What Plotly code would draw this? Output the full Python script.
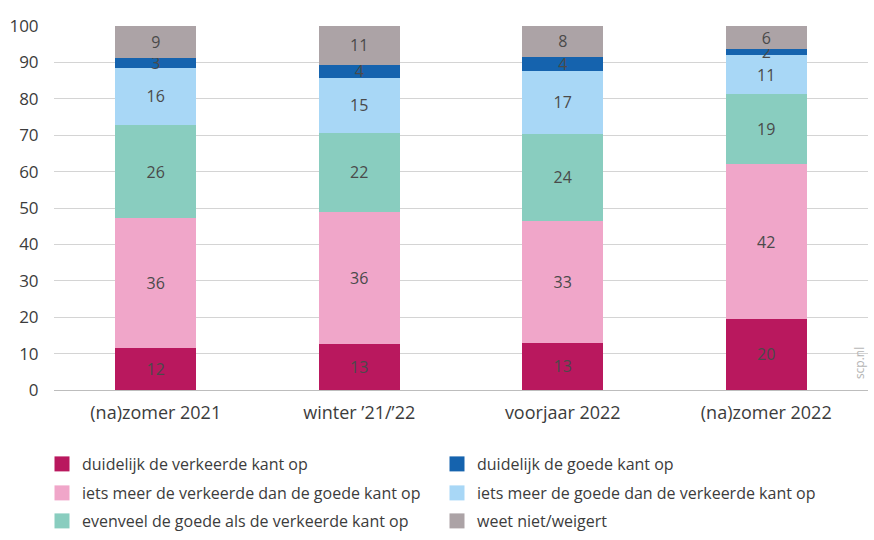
import plotly.graph_objects as go

categories = ["(na)zomer 2021", "winter \u201921/\u201922", "voorjaar 2022", "(na)zomer 2022"]

series_names = [
    "duidelijk de verkeerde kant op",
    "iets meer de verkeerde dan de goede kant op",
    "evenveel de goede als de verkeerde kant op",
    "iets meer de goede dan de verkeerde kant op",
    "duidelijk de goede kant op",
    "weet niet/weigert",
]
duidelijk_verkeerd = [11.6, 12.6, 13.0, 19.6]
iets_verkeerd = [35.6, 36.4, 33.4, 42.4]
evenveel = [25.6, 21.6, 24.0, 19.2]
iets_goed = [15.8, 15.2, 17.3, 10.8]
duidelijk_goed = [2.7, 3.6, 3.9, 1.6]
weet_niet = [8.7, 10.6, 8.4, 6.4]

series_values = [duidelijk_verkeerd, iets_verkeerd, evenveel, iets_goed, duidelijk_goed, weet_niet]
colors = ["#b9185e", "#f0a6c9", "#89cdbf", "#a8d7f6", "#1563ae", "#aca3a6"]
# legend row (1..3) and column order for each series
legend_rows = ["legend", "legend2", "legend3", "legend2", "legend", "legend3"]
ranks = [1, 1, 1, 2, 2, 2]

y_ticks = [0, 10, 20, 30, 40, 50, 60, 70, 80, 90, 100]

FONT = "Open Sans"
fig = go.Figure()
for name, vals, col in zip(series_names, series_values, colors):
    fig.add_trace(go.Bar(
        x=categories, y=vals, name=name, marker_color=col, marker_line_width=0,
        text=[f"{round(v):d}" for v in vals], texttemplate="%{text}",
        textposition="inside", insidetextanchor="middle", constraintext="none",
        textangle=0,
        textfont=dict(family=FONT, size=16, color="#4a4a4a"),
        showlegend=False, hoverinfo="skip",
    ))

# legend entries (square swatches)
for name, col, rk, lg in zip(series_names, colors, ranks, legend_rows):
    fig.add_trace(go.Scatter(
        x=[None], y=[None], mode="markers", name=name, legend=lg,
        marker=dict(symbol="square", size=15, color=col, line_width=0),
        legendrank=rk, hoverinfo="skip",
    ))

def legend_row(top_px):
    return dict(orientation="h", xref="container", yref="container",
                x=42 / 874, xanchor="left", y=1 - top_px / 540, yanchor="top",
                entrywidth=350, entrywidthmode="pixels", traceorder="normal",
                itemsizing="trace", bgcolor="rgba(0,0,0,0)",
                font=dict(family=FONT, size=16, color="#3c3c3c"), itemwidth=30)

fig.update_layout(
    barmode="stack", bargap=0.6,
    width=874, height=540,
    margin=dict(l=54, r=6, t=26, b=150, autoexpand=False),
    plot_bgcolor="white", paper_bgcolor="white",
    font=dict(family=FONT, size=16, color="#3c3c3c"),
    uniformtext=dict(minsize=16, mode="show"),
    xaxis=dict(showline=True, linecolor="#bdbdbd", linewidth=1, ticks="outside", ticklen=6,
               tickcolor="rgba(0,0,0,0)", showgrid=False,
               automargin=False, tickfont=dict(size=18, color="#3c3c3c")),
    yaxis=dict(range=[0, 100.01], tickvals=y_ticks, showgrid=True, gridcolor="#d4d4d4",
               gridwidth=1, zeroline=False, ticks="outside", ticklen=11, automargin=False,
               tickcolor="rgba(0,0,0,0)", tickfont=dict(size=17, color="#3c3c3c")),
    legend=legend_row(447),
    legend2=legend_row(476),
    legend3=legend_row(504),
    showlegend=True,
)
fig.add_annotation(text="scp.nl", xref="paper", yref="paper", x=0.989, y=0.074,
                   xanchor="center", yanchor="middle", textangle=-90, showarrow=False,
                   font=dict(family=FONT, size=12, color="#b5b5b5"))

fig.write_html("out.html", config={"displayModeBar": False},
               post_script="document.body.style.margin='0';")
